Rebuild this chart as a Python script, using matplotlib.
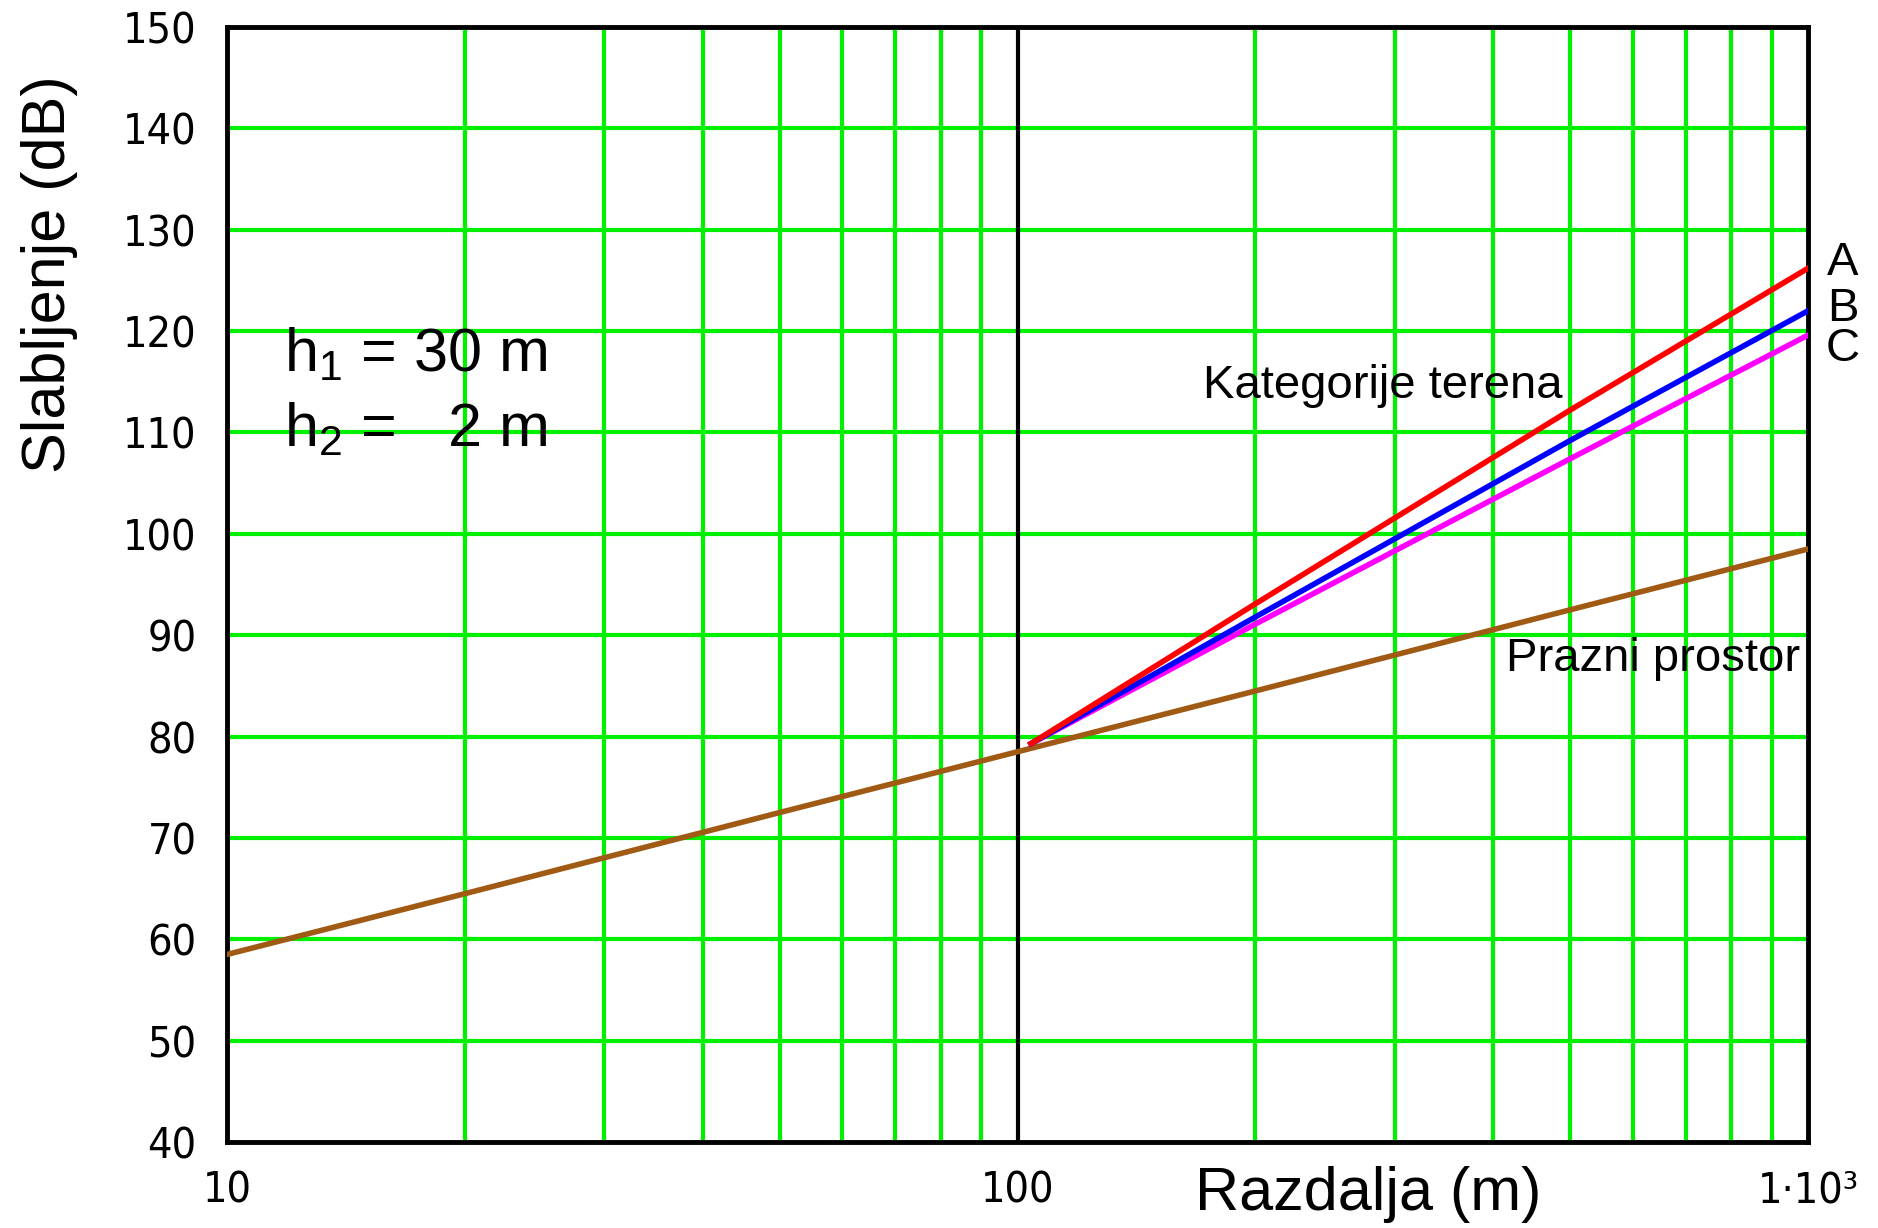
import numpy as np
import matplotlib.pyplot as plt
from matplotlib.ticker import FixedLocator, NullFormatter, FixedFormatter

# free space loss
d_free = [10, 20, 50, 100, 200, 500, 1000]
L_free = [58.5, 64.5, 72.5, 78.5, 84.5, 92.5, 98.5]

# terrain categories A, B, C
d_terr = [104, 200, 500, 1000]
L_A = [79.3, 93.1, 112.2, 126.2]
L_B = [79.3, 91.8, 109.2, 122.0]
L_C = [79.3, 91.1, 107.4, 119.6]

xticks = [10, 100, 1000]
xticklabels = ["10", "100", "1\u00b710\u00b3"]
yticks = list(range(40, 151, 10))

green = "#00f000"
plt.rcParams["font.family"] = ["Liberation Sans", "DejaVu Sans"]
plt.rcParams["mathtext.default"] = "regular"

fig = plt.figure(figsize=(18.78, 12.28), dpi=100)
ax = fig.add_axes([227 / 1878, 1 - 1142 / 1228, (1808 - 227) / 1878, (1142 - 27) / 1228])

ax.set_xscale("log")
ax.set_xlim(10, 1000)
ax.set_ylim(40, 150)

# grid
for dec in [10, 100]:
    for k in range(2, 10):
        ax.axvline(dec * k, color=green, lw=3, zorder=1)
for y in yticks[1:-1]:
    ax.axhline(y, color=green, lw=3, zorder=1)
ax.axvline(100, color="black", lw=3, zorder=1.5)

ax.plot(d_free, L_free, color="#a05a14", lw=4, zorder=3)
ax.plot(d_terr, L_C, color="#ff00ff", lw=4, zorder=3)
ax.plot(d_terr, L_B, color="#0000ff", lw=4, zorder=3)
ax.plot(d_terr, L_A, color="#ff0000", lw=4, zorder=3)

for s in ax.spines.values():
    s.set_linewidth(3.5)
    s.set_color("black")

ax.xaxis.set_major_locator(FixedLocator(xticks))
ax.xaxis.set_major_formatter(FixedFormatter(xticklabels))
ax.xaxis.set_minor_formatter(NullFormatter())
ax.set_yticks(yticks)
ax.tick_params(which="both", length=0)
ax.tick_params(axis="y", pad=22)
ax.tick_params(axis="x", pad=20)
for lab in ax.get_xticklabels() + ax.get_yticklabels():
    lab.set_family("DejaVu Sans")
    lab.set_stretch("condensed")
    lab.set_fontsize(31)

ax.text(-0.112, 0.778, "Slabljenje (dB)", transform=ax.transAxes, rotation=90,
        ha="center", va="center", fontsize=44)
ax.text(0.722, -0.047, "Razdalja (m)", transform=ax.transAxes,
        ha="center", va="center", fontsize=44)

ax.text(11.8, 116.0, "h$_1$ = 30 m", fontsize=44, ha="left", va="baseline")
ax.text(11.8, 108.6, "h$_2$ =   2 m", fontsize=44, ha="left", va="baseline")
ax.text(0.731, 0.678, "Kategorije terena", transform=ax.transAxes, fontsize=34,
        ha="center", va="center")
ax.text(0.902, 0.433, "Prazni prostor", transform=ax.transAxes, fontsize=34,
        ha="center", va="center")
for lab, yy in zip(["A", "B", "C"], [263, 309, 349]):
    fig.text(1843 / 1878, 1 - yy / 1228, lab, fontsize=34, ha="center", va="center")

fig.savefig("out.png", dpi=100, facecolor="white")
